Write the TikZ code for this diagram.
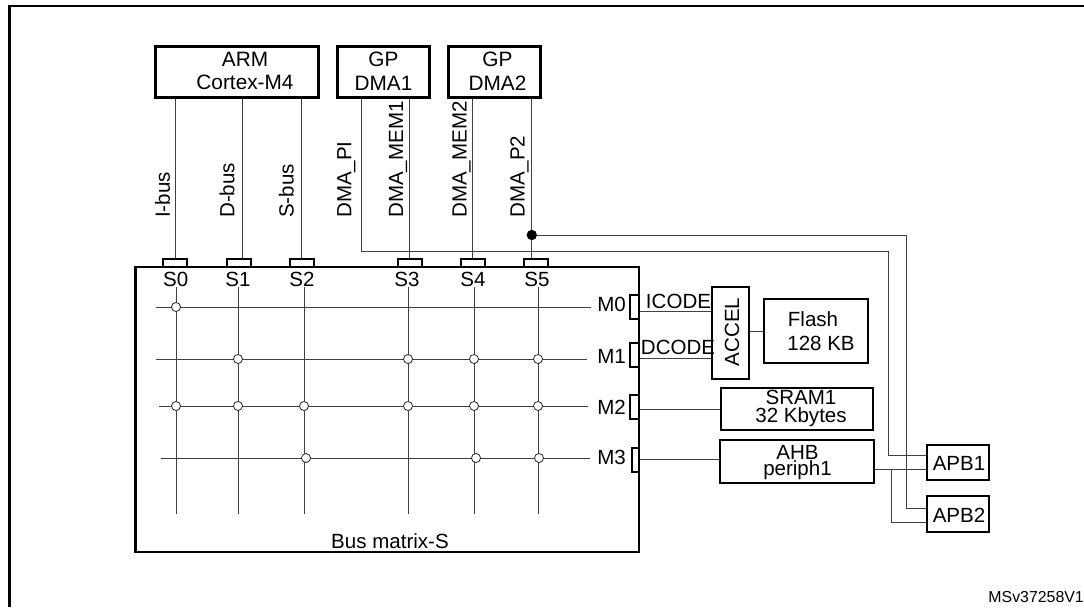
\documentclass[tikz,border=0pt]{standalone}
\usepackage{fontspec}
\setmainfont{Liberation Sans}
\usetikzlibrary{positioning,calc}
\begin{document}
\begin{tikzpicture}[x=0.75pt,y=-0.75pt,
      box/.style={rectangle,draw=black,line width=1.8pt,fill=white,inner sep=0pt},
      port/.style={rectangle,draw=black,line width=1.5pt,fill=white,inner sep=0pt},
      wire/.style={draw=black!75,line width=0.7pt},
      link/.style={circle,draw=black!85,line width=0.6pt,fill=white,inner sep=0pt,minimum size=6.8pt},
      txt/.style={inner sep=0pt,align=center,font=\fontsize{15.6}{17.8}\selectfont},
      tight/.style={font=\fontsize{15.4}{13}\selectfont},
      tighter/.style={font=\fontsize{15.4}{11.8}\selectfont},
      bus/.style={inner sep=0pt,anchor=west,rotate=90,font=\fontsize{15.4}{17}\selectfont},
      tag/.style={inner sep=0pt,font=\fontsize{15.4}{17}\selectfont}
    ]
    \useasboundingbox (0,0) rectangle (1084,607);
    \coordinate (frameR) at (1084,6);
    \coordinate (frameC) at (9.5,6);
    \coordinate (frameB) at (9.5,607);
    \draw[line width=1.6pt] (frameR) -- (frameC) -- (frameB);

    \node[box,minimum width=122.2pt,minimum height=38pt] (arm) at (237,72) {};
    \node[box,minimum width=69pt,minimum height=38pt] (dma1) at (383.5,72) {};
    \node[box,minimum width=69pt,minimum height=38pt] (dma2) at (494.5,72) {};
    \node[box,minimum width=377.6pt,minimum height=213.7pt] (matrix) at (387.25,409.5) {};

    \foreach \name/\x in {s0/175.4,s1/239,s2/302,s3/409.5,s4/472.5,s5/536}{
      \node[port,minimum width=18pt,minimum height=6pt] (\name) at (\x,263) {};
    }
    \foreach \u/\v/\x in {arm/s0/175,arm/s1/242.5,arm/s2/301.8,dma1/s3/409.3,dma2/s4/472.5,dma2/s5/531.8}{
      \draw[wire] (\x,0 |- \u.south) -- (\x,0 |- \v.north);
    }
    \foreach \name/\x/\lab in {s0/175.7/S0,s1/238/S1,s2/302/S2,s3/407/S3,s4/473/S4,s5/537/S5}{
      \node[tag] (\name lab) at (\x,279) {\lab};
    }

    \node[bus] (ibus) at (162.5,218) {I-bus};
    \node[bus] (dbus) at (227,218) {D-bus};
    \node[bus] (sbus) at (286.4,218) {S-bus};
    \node[bus] (dmapi) at (346.4,218) {DMA\_PI};
    \node[bus] (dmamem1) at (398,218) {DMA\_MEM1};
    \node[bus] (dmamem2) at (461.4,218) {DMA\_MEM2};
    \node[bus] (dmap2) at (519.6,218) {DMA\_P2};

    \foreach \i/\x in {0/176,1/238,2/304,3/408,4/474,5/538}{
      \coordinate (vtop\i) at (\x,287);
      \coordinate (vbot\i) at (\x,514);
      \draw[wire] (vtop\i) -- (vbot\i);
    }
    \foreach \i/\xa/\xb/\y in {0/156/591/307,1/156/587/359,2/159/588/406,3/161/590/458}{
      \coordinate (hleft\i) at (\xa,\y);
      \coordinate (hright\i) at (\xb,\y);
      \draw[wire] (hleft\i) -- (hright\i);
    }
    \foreach \n/\x/\y in {a/176/307,b/238/359,c/408/359,d/474/359,e/538/359,
                          f/176/406,g/238/406,h/304/406,i/408/406,j/474/406,k/538/406,
                          l/306/458,m/476/458,n/539/458}{
      \node[link] (\n) at (\x,\y) {};
    }

    \node[port,minimum width=6.5pt,minimum height=18pt] (m0) at (634.5,307) {};
    \node[port,minimum width=6.5pt,minimum height=18pt] (m1) at (634.5,354.5) {};
    \node[port,minimum width=6.5pt,minimum height=18pt] (m2) at (634.5,406.5) {};
    \node[port,minimum width=5pt,minimum height=18pt] (m3) at (635.5,459.5) {};
    \foreach \name/\y in {M0/304,M1/356,M2/407,M3/457}{
      \node[tag,anchor=west] (\name lab) at (597,\y) {\name};
    }

    \node[box,minimum width=27.7pt,minimum height=69pt] (accel) at (730.5,333) {};
    \node[box,minimum width=78pt,minimum height=48pt] (flash) at (816,331) {};
    \node[box,minimum width=114pt,minimum height=31.5pt] (sram) at (797,409) {};
    \node[box,minimum width=115.5pt,minimum height=32.2pt] (ahb) at (797,461.5) {};
    \node[box,minimum width=46.5pt,minimum height=26pt] (apb1) at (958,462.5) {};
    \node[box,minimum width=46.5pt,minimum height=27pt] (apb2) at (958,514) {};

    \draw[wire] (matrix.east |- 0,311) -- (accel.west |- 0,311);
    \draw[wire] (matrix.east |- 0,358) -- (accel.west |- 0,358);
    \draw[wire] (accel.east |- flash.west) -- (flash.west);
    \draw[wire] (matrix.east |- sram.west) -- (sram.west);
    \draw[wire] (matrix.east |- 0,459) -- (ahb.west |- 0,459);

    \coordinate (dot) at (531.8,235);
    \coordinate (p2top) at (906,235);
    \coordinate (p2bot) at (906,508);
    \coordinate (pibot) at (361.4,251);
    \coordinate (pitop) at (888,251);
    \coordinate (piend) at (888,455);
    \coordinate (tap) at (891,469);
    \coordinate (tapbot) at (891,522);
    \draw[wire] (dot) -- (p2top) -- (p2bot) -- (apb2.west |- p2bot);
    \draw[wire] (361.4,0 |- dma1.south) -- (pibot) -- (pitop) -- (piend) -- (apb1.west |- piend);
    \draw[wire] (ahb.east |- tap) -- (apb1.west |- tap);
    \draw[wire] (tap) -- (tapbot) -- (apb2.west |- tapbot);
    \fill[black] (dot) circle (5.2);

    \node[txt] (armtext) at (245,71) {ARM\\Cortex-M4};
    \node[txt] (dma1text) at (383.5,71) {GP\\DMA1};
    \node[txt] (dma2text) at (497.5,71) {GP\\DMA2};
    \node[tag] (icode) at (678.5,301) {ICODE};
    \node[tag] (dcode) at (678,347) {DCODE};
    \node[tag,rotate=90] (acceltext) at (732,332) {ACCEL};
    \node[tag] (flashtext) at (813,319) {Flash};
    \node[tag] (flashsize) at (821,343) {128 KB};
    \node[txt,tight] (sramtext) at (801,408.5) {SRAM1\\32 Kbytes};
    \node[txt,tighter] (ahbtext) at (797.5,462.5) {AHB\\periph1};
    \node[tag] (apb1text) at (959,463) {APB1};
    \node[tag] (apb2text) at (959,515) {APB2};
    \node[tag] (matrixtext) at (390,541) {Bus matrix-S};
    \node[inner sep=0pt,anchor=east,font=\fontsize{11.9}{14}\selectfont] (version) at (1084,597) {MSv37258V1};
  \end{tikzpicture}
\end{document}
